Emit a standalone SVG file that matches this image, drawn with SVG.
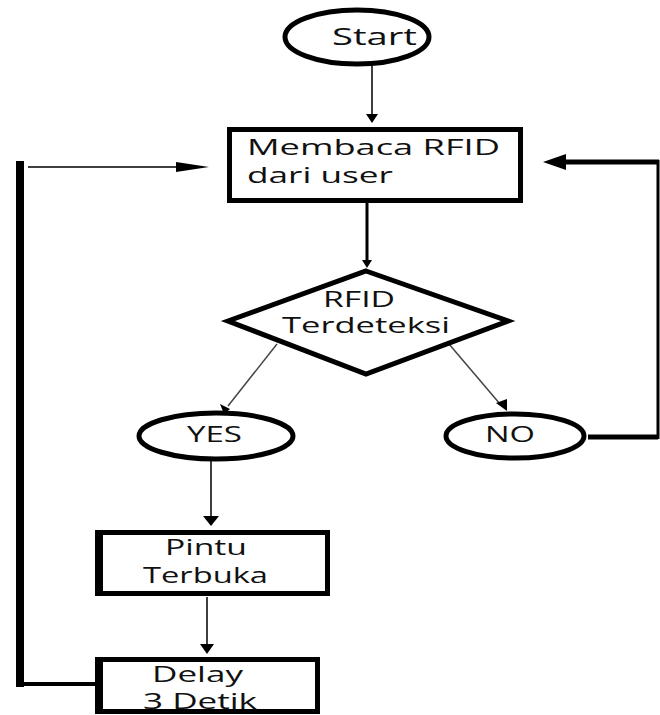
<svg xmlns="http://www.w3.org/2000/svg" width="660" height="715" viewBox="0 0 660 715">
<style>
.shape{fill:#fff;stroke:#000;stroke-width:5}
.t{font-family:"Open Sans","Noto Sans",sans-serif;font-size:21px;fill:#111}
.thin{stroke:#000;stroke-width:1.5;fill:none}
.thick{stroke:#000;stroke-width:4;fill:none}
.head{fill:#000}
</style>
<rect width="660" height="715" fill="#fff"/>
<g id="connectors">
  <line class="thin" x1="372" y1="66" x2="372" y2="116"/>
  <polygon class="head" points="366,114 378,114 372,123"/>
  <line class="thick" x1="367" y1="203" x2="367" y2="262" style="stroke-width:3"/>
  <polygon class="head" points="362,260 372,260 367,268"/>
  <line class="thin" x1="277" y1="344" x2="228" y2="406" style="stroke:#444"/>
  <polygon class="head" points="220,404 230,409 224,414"/>
  <line class="thin" x1="449" y1="344" x2="500" y2="404" style="stroke:#444"/>
  <polygon class="head" points="496,403 507,399 507,411"/>
  <line class="thin" x1="211" y1="461" x2="211" y2="518"/>
  <polygon class="head" points="203,516 219,516 211,526"/>
  <line class="thin" x1="207" y1="597" x2="207" y2="645"/>
  <polygon class="head" points="200,644 214,644 207,654"/>
  <polyline class="thick" points="588,437 658,437" style="stroke-width:5"/>
  <line class="thick" x1="658" y1="439" x2="658" y2="160" style="stroke-width:3"/>
  <line class="thick" x1="659" y1="162" x2="560" y2="162" style="stroke-width:5"/>
  <polygon class="head" points="543,162 566,154 566,170"/>
  <line class="thick" x1="20" y1="161" x2="20" y2="687" style="stroke-width:8"/>
  <line class="thick" x1="16" y1="684" x2="98" y2="684"/>
  <line class="thin" x1="28" y1="167" x2="185" y2="167"/>
  <polygon class="head" points="176,162 209,167 176,172"/>
</g>
<g id="start">
  <ellipse class="shape" cx="357" cy="37" rx="72" ry="27"/>
  <text class="t" x="332" y="45" textLength="85" lengthAdjust="spacingAndGlyphs" style="font-size:23px">Start</text>
</g>
<g id="membaca">
  <rect class="shape" x="229.5" y="129.5" width="291" height="71"/>
  <text class="t" x="247" y="155" textLength="253" lengthAdjust="spacingAndGlyphs">Membaca RFID</text>
  <text class="t" x="247" y="183" textLength="146" lengthAdjust="spacingAndGlyphs">dari user</text>
</g>
<g id="rfid">
  <polygon class="shape" points="366,271 508,321 366,374 228,321"/>
  <text class="t" x="323" y="307" textLength="72" lengthAdjust="spacingAndGlyphs">RFID</text>
  <text class="t" x="282" y="333" textLength="168" lengthAdjust="spacingAndGlyphs">Terdeteksi</text>
</g>
<g id="yes">
  <ellipse class="shape" cx="216" cy="436" rx="77" ry="23"/>
  <text class="t" x="187" y="442" textLength="55" lengthAdjust="spacingAndGlyphs">YES</text>
</g>
<g id="no">
  <ellipse class="shape" cx="515" cy="436" rx="69" ry="22"/>
  <text class="t" x="485" y="442" textLength="50" lengthAdjust="spacingAndGlyphs">NO</text>
</g>
<g id="pintu">
  <rect class="shape" x="97.5" y="532.5" width="230" height="61"/>
  <line x1="99" y1="530" x2="99" y2="596" stroke="#000" stroke-width="8"/>
  <text class="t" x="165" y="555" textLength="82" lengthAdjust="spacingAndGlyphs">Pintu</text>
  <text class="t" x="143" y="583" textLength="125" lengthAdjust="spacingAndGlyphs">Terbuka</text>
</g>
<g id="delay">
  <rect class="shape" x="97.5" y="659.5" width="220" height="52"/>
  <line x1="99" y1="657" x2="99" y2="714" stroke="#000" stroke-width="8"/>
  <text class="t" x="152" y="682" textLength="91" lengthAdjust="spacingAndGlyphs">Delay</text>
  <text class="t" x="143" y="709" textLength="114" lengthAdjust="spacingAndGlyphs">3 Detik</text>
</g>
</svg>
